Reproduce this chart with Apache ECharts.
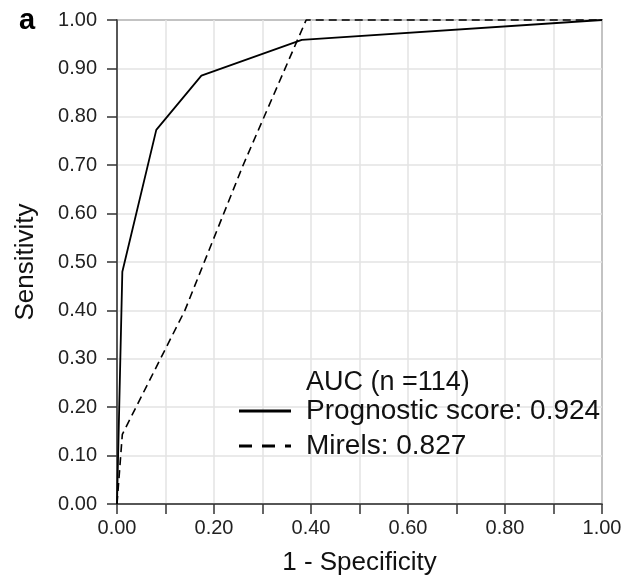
<!DOCTYPE html>
<html>
<head>
<meta charset="utf-8">
<script src="https://cdn.jsdelivr.net/npm/echarts@6/dist/echarts.min.js"></script>
<style>
	html, body { margin: 0; padding: 0; background: #fff; }
	#roc { width: 632px; height: 581px; }
</style>
</head>
<body>
<div id="roc"></div>
<script>
// ROC 曲线数据 (1 - Specificity, Sensitivity)
var scoreFpr  = [0, 0.011, 0.081, 0.174, 0.381, 1];
var scoreTpr  = [0, 0.480, 0.773, 0.885, 0.959, 1];
var mirelsFpr = [0, 0.011, 0.140, 0.260, 0.390, 1];
var mirelsTpr = [0, 0.144, 0.400, 0.700, 1.000, 1];

var scoreName  = 'Prognostic score: 0.924';
var mirelsName = 'Mirels: 0.827';
var aucTitle   = 'AUC (n =114)';

function pairs(xs, ys){
	var out = [];
	for(var i = 0; i < xs.length; i++){ out.push([xs[i], ys[i]]); }
	return out;
}

var myChart = echarts.init(document.getElementById('roc'));
var font = 'Liberation Sans, Arial, sans-serif';

// 图例 (手绘, 线比曲线粗)
var legendKeys = [
	{ text: scoreName,  y: 411, dash: null },
	{ text: mirelsName, y: 446, dash: [13, 10] }
];
var legendGraphic = [];
legendKeys.forEach(function(k){
	legendGraphic.push({ type: 'line', z: 100, shape: { x1: 239, y1: k.y, x2: 291, y2: k.y },
		style: { stroke: '#000', lineWidth: 3.2, lineDash: k.dash } });
	legendGraphic.push({ type: 'text', z: 100, x: 306, y: k.y,
		style: { text: k.text, font: '28px ' + font, fill: '#111', verticalAlign: 'middle' } });
});

var option = {
	animation: false,
	textStyle: { fontFamily: font },
	grid: {
		left: 117, top: 20, width: 485, height: 485,
		show: true,
		borderColor: '#333',
		borderWidth: 1.5
	},
	graphic: [
		{ type: 'text', z: 100, left: 19, top: 6, style: { text: 'a', font: 'bold 29px ' + font, fill: '#000' } },
		{ type: 'text', z: 100, x: 306, y: 383, style: { text: aucTitle, font: '27px ' + font, fill: '#111', verticalAlign: 'middle' } }
	].concat(legendGraphic),
	xAxis: {
		type: 'value',
		min: 0, max: 1, interval: 0.1,
		name: '1 - Specificity',
		nameLocation: 'middle',
		nameGap: 46,
		nameTextStyle: { fontSize: 26, color: '#111' },
		axisLine: { lineStyle: { color: '#333', width: 1.5 } },
		axisTick: { show: true, length: 10, lineStyle: { color: '#333', width: 1.5 } },
		axisLabel: {
			fontSize: 20, color: '#222', margin: 14,
			formatter: function(v){ return Math.round(v * 10) % 2 === 0 ? v.toFixed(2) : ''; }
		},
		splitLine: { show: true, lineStyle: { color: '#e3e3e3', width: 1.5 } }
	},
	yAxis: {
		type: 'value',
		min: 0, max: 1, interval: 0.1,
		name: 'Sensitivity',
		nameLocation: 'middle',
		nameGap: 78,
		nameTextStyle: { fontSize: 26, color: '#111' },
		axisLine: { lineStyle: { color: '#333', width: 1.5 } },
		axisTick: { show: true, length: 10, lineStyle: { color: '#333', width: 1.5 } },
		axisLabel: {
			fontSize: 20, color: '#222', margin: 20,
			formatter: function(v){ return v.toFixed(2); }
		},
		splitLine: { show: true, lineStyle: { color: '#e3e3e3', width: 1.5 } }
	},
	series: [
		{
			name: scoreName, type: 'line', symbol: 'none', clip: false,
			lineStyle: { color: '#000', width: 1.8, type: 'solid' },
			data: pairs(scoreFpr, scoreTpr)
		},
		{
			name: mirelsName, type: 'line', symbol: 'none', clip: false,
			lineStyle: { color: '#000', width: 1.6, type: [8, 5] },
			data: pairs(mirelsFpr, mirelsTpr)
		}
	]
};
myChart.setOption(option);
</script>
</body>
</html>
